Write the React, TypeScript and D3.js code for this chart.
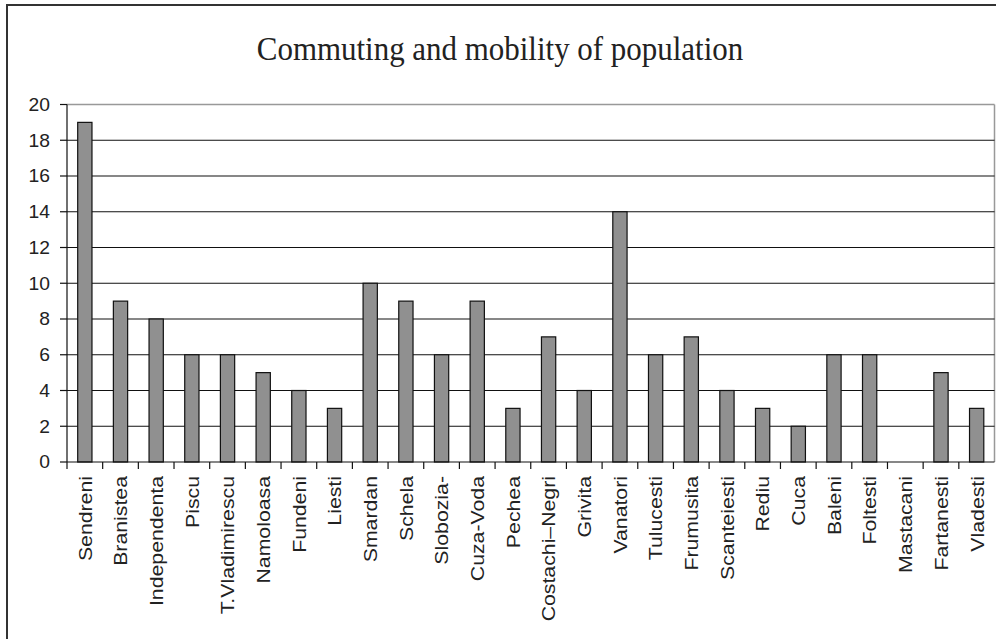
import { useEffect } from 'react';
import * as d3 from 'd3';

const categories = [
  'Sendreni', 'Branistea', 'Independenta', 'Piscu', 'T.Vladimirescu', 'Namoloasa',
  'Fundeni', 'Liesti', 'Smardan', 'Schela', 'Slobozia-', 'Cuza-Voda', 'Pechea',
  'Costachi–Negri', 'Grivita', 'Vanatori', 'Tulucesti', 'Frumusita', 'Scanteiesti',
  'Rediu', 'Cuca', 'Baleni', 'Foltesti', 'Mastacani', 'Fartanesti', 'Vladesti',
];
const values = [19, 9, 8, 6, 6, 5, 4, 3, 10, 9, 6, 9, 3, 7, 4, 14, 6, 7, 4, 3, 2, 6, 6, 0, 5, 3];
const yTicks = [0, 2, 4, 6, 8, 10, 12, 14, 16, 18, 20];
const title = 'Commuting and mobility of population';

const W = 996;
const H = 639;
const plot = { left: 67, right: 994.5, top: 104.5, bottom: 462 };

export default function App() {
  useEffect(() => {
    document.body.style.margin = '0';
  }, []);

  const x = d3.scaleBand<string>().domain(categories).range([plot.left, plot.right]);
  const y = d3.scaleLinear().domain([0, 20]).range([plot.bottom, plot.top]);
  const barW = x.bandwidth() / 2.5;
  const font = '"Liberation Sans", Arial, sans-serif';

  return (
    <svg width={W} height={H} style={{ display: 'block', background: '#fff' }}>
      {/* outer frame */}
      <rect x={7} y={5} width={W + 10} height={H + 10} fill="none" stroke="#333" strokeWidth={2} />

      <text
        transform="translate(500,60) scale(0.91,1)"
        textAnchor="middle"
        fontFamily='"Liberation Serif", "Times New Roman", serif'
        fontSize={34}
        fill="#222"
      >
        {title}
      </text>

      {/* plot area frame (top/right gray) */}
      <line x1={plot.left} x2={plot.right} y1={plot.top} y2={plot.top} stroke="#999" strokeWidth={1.5} />
      <line x1={plot.right} x2={plot.right} y1={plot.top} y2={plot.bottom} stroke="#999" strokeWidth={1.5} />

      {/* gridlines */}
      {yTicks.filter((t) => t > 0 && t < 20).map((t) => (
        <line key={t} x1={plot.left} x2={plot.right} y1={y(t)} y2={y(t)} stroke="#111" strokeWidth={1.2} />
      ))}

      {/* bars */}
      {categories.map((c, i) =>
        values[i] > 0 ? (
          <rect
            key={c}
            x={(x(c) ?? 0) + (x.bandwidth() - barW) / 2}
            y={y(values[i])}
            width={barW}
            height={y(0) - y(values[i])}
            fill="#909090"
            stroke="#111"
            strokeWidth={1.2}
          />
        ) : null,
      )}

      {/* y axis */}
      <line x1={plot.left} x2={plot.left} y1={plot.top} y2={plot.bottom} stroke="#111" strokeWidth={1.2} />
      {yTicks.map((t) => (
        <g key={t}>
          <line x1={plot.left - 7} x2={plot.left} y1={y(t)} y2={y(t)} stroke="#111" strokeWidth={1.2} />
          <text
            transform={`translate(${plot.left - 17},${y(t)}) scale(1.1,1)`}
            dy="0.36em"
            textAnchor="end"
            fontFamily={font}
            fontSize={17.5}
            fill="#222"
          >
            {t}
          </text>
        </g>
      ))}

      {/* x axis */}
      <line x1={plot.left} x2={plot.right} y1={plot.bottom} y2={plot.bottom} stroke="#111" strokeWidth={1.2} />
      {categories.map((c, i) => (
        <line
          key={`t${i}`}
          x1={x(c) ?? 0}
          x2={x(c) ?? 0}
          y1={plot.bottom}
          y2={plot.bottom + 7}
          stroke="#111"
          strokeWidth={1.2}
        />
      ))}
      {categories.map((c) => {
        const cx = (x(c) ?? 0) + x.bandwidth() / 2;
        return (
          <text
            key={`l${c}`}
            transform={`translate(${cx},${plot.bottom + 14}) rotate(-90) scale(1.12,1)`}
            dy="0.36em"
            textAnchor="end"
            fontFamily={font}
            fontSize={19}
            fill="#222"
          >
            {c}
          </text>
        );
      })}
    </svg>
  );
}
